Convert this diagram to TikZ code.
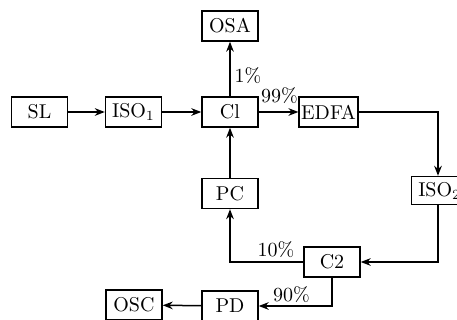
\documentclass[tikz,border=0pt]{standalone}
\usetikzlibrary{arrows.meta}

\begin{document}
\begin{tikzpicture}[x=0.5pt, y=-0.5pt,
    block/.style={draw, rectangle, line width=0.7pt, minimum width=28pt, minimum height=15pt, inner xsep=1pt, inner ysep=0pt},
    link/.style={-{Stealth[length=5pt, width=3.8pt]}, line width=0.75pt}]

    \useasboundingbox (0,0) rectangle (457,320);

    % Main line
    \node[block] (sl) at (39.5, 112) {SL};
    \node[block] (iso1) at (133.5, 112) {ISO$_1$};
    \node[block] (c1) at (230, 112) {Cl};
    \node[block] (edfa) at (328.5, 112) {EDFA};
    \node[block] (osa) at (230, 26) {OSA};

    % Loop back
    \coordinate (turn) at (438, 112);
    \node[block, anchor=west, minimum height=14pt] (iso2) at (411, 190.5) {ISO$_2$};
    \node[block] (c2) at (332, 262) {C2};
    \node[block] (pc) at (230, 193.5) {PC};
    \node[block] (pd) at (230, 306) {PD};
    \node[block] (osc) at (134, 305) {OSC};

    % Connections
    \draw[link] (sl) -- (iso1);
    \draw[link] (iso1) -- (c1);
    \draw[link] (c1) -- (edfa);
    \draw[link] (c1) -- (osa);
    \draw[link] (edfa.east) -- (turn) -- (turn |- iso2.north);
    \draw[link] (turn |- iso2.south) |- (c2.east);
    \draw[link] (c2.west) -| (pc.south);
    \draw[link] (pc) -- (c1);
    \draw[link] (c2.south) |- (pd.east);
    \draw[link] (pd) -- (osc);

    % Splitting ratios
    \node (r1) at (248, 76) {1\%};
    \node (r99) at (279.5, 96) {99\%};
    \node (r10) at (276, 250) {10\%};
    \node (r90) at (291.5, 294.5) {90\%};

\end{tikzpicture}
\end{document}
